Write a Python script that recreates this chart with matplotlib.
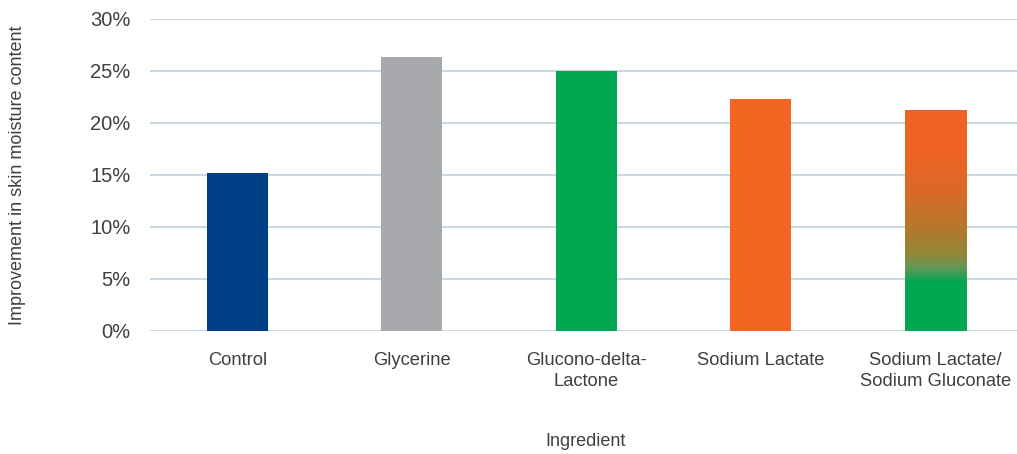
import numpy as np
import matplotlib.pyplot as plt
from matplotlib.colors import LinearSegmentedColormap
from matplotlib.ticker import FuncFormatter

plt.rcParams['font.family'] = ['Liberation Sans', 'DejaVu Sans']

categories = ["Control", "Glycerine", "Glucono-delta-\nLactone", "Sodium Lactate",
              "Sodium Lactate/\nSodium Gluconate"]
values = [15.2, 26.35, 25.0, 22.3, 21.25]
colors = ["#003F87", "#A7A9AC", "#00A650", "#F26522", None]
yticks = [0, 5, 10, 15, 20, 25, 30]

text_color = "#404040"
grid_color = "#C8D8E2"

fig = plt.figure(figsize=(10.17, 4.54), dpi=100)
W, H = 1017, 454
left, right, top, bottom = 150, 1022.5, 19, 331
ax = fig.add_axes([left / W, (H - bottom) / H, (right - left) / W, (bottom - top) / H])

x = np.arange(len(categories))
bars = ax.bar(x, values, width=0.35, color=[c if c else "none" for c in colors], zorder=3)

# Blended fill for the combined ingredient: green at the base, orange at the top
blend = LinearSegmentedColormap.from_list(
    "blend",
    [(0.0, "#00A650"), (0.155, "#00A650"), (0.20, "#5E9A58"), (0.245, "#93883A"),
     (0.33, "#B4782D"), (0.45, "#DA6A27"), (0.56, "#EE6325"), (1.0, "#EE6325")])
mix_bar = bars[4]
grad = np.linspace(0, 1, 256).reshape(-1, 1)
im = ax.imshow(grad, cmap=blend, origin="lower", aspect="auto",
               extent=(x[4] - 0.175, x[4] + 0.175, 0, 30), zorder=3)
im.set_clip_path(mix_bar)

ax.set_xlim(-0.5, len(categories) - 0.5)
ax.set_ylim(0, 30)
ax.set_yticks(yticks)
ax.yaxis.set_major_formatter(FuncFormatter(lambda v, p: f"{v:.0f}%"))
ax.grid(axis="y", color=grid_color, linewidth=1.4, zorder=0)
for s in ax.spines.values():
    s.set_visible(False)
ax.tick_params(axis="both", length=0, colors=text_color)
ax.tick_params(axis="y", labelsize=14.5, pad=14)
ax.set_xticks(x)
ax.set_xticklabels(categories, fontsize=13.2, color=text_color, linespacing=1.3)
ax.tick_params(axis="x", pad=15)

fig.text(586 / W, 1 - 441 / H, "Ingredient", ha="center", va="center",
         fontsize=13, color=text_color)
fig.text(18 / W, 1 - 175 / H, "Improvement in skin moisture content", rotation=90,
         ha="center", va="center", fontsize=13, color=text_color)

fig.savefig("out.png", dpi=100)
